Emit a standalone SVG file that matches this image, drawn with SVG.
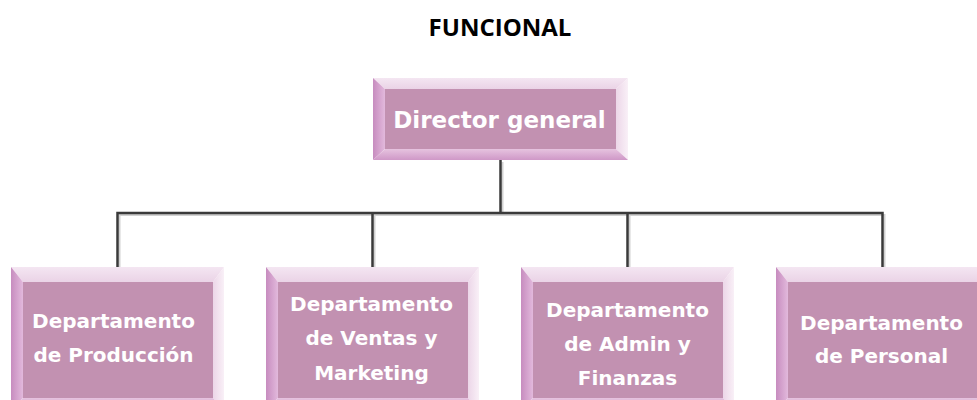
<svg xmlns="http://www.w3.org/2000/svg" xmlns:xlink="http://www.w3.org/1999/xlink" width="977" height="400" viewBox="0 0 977 400">
<style>
.title{font-family:"Open Sans","Liberation Sans",sans-serif;font-weight:bold;font-size:24px;fill:#000;text-anchor:middle}
.lbl{font-family:"DejaVu Sans",Verdana,sans-serif;font-weight:bold;font-size:20px;fill:#ffffff;text-anchor:middle}
.lblTop{font-size:23px}
.face{fill:#c291b1}
.conn{fill:none;stroke:#3a3a3a;stroke-width:2.5}
.shadow{fill:none;stroke:#9a9a9a;stroke-width:2;opacity:0.45}
</style>
<defs>
<linearGradient id="gTop" x1="0" y1="0" x2="0" y2="1"><stop offset="0" stop-color="#f4e6f2"/><stop offset="1" stop-color="#ead3e6"/></linearGradient>
<linearGradient id="gLeft" x1="0" y1="0" x2="1" y2="0"><stop offset="0" stop-color="#c78cbf"/><stop offset="1" stop-color="#e2b9dc"/></linearGradient>
<linearGradient id="gRight" x1="0" y1="0" x2="1" y2="0"><stop offset="0" stop-color="#ecd6e8"/><stop offset="1" stop-color="#f9f0f7"/></linearGradient>
<linearGradient id="gBottom" x1="0" y1="0" x2="0" y2="1"><stop offset="0" stop-color="#e6c3df"/><stop offset="1" stop-color="#cf98c7"/></linearGradient>
<g id="frameTop">
<polygon points="0,0 255,0 243,11 12,11" fill="url(#gTop)"/>
<polygon points="0,0 12,11 12,71 0,82" fill="url(#gLeft)"/>
<polygon points="255,0 255,82 243,71 243,11" fill="url(#gRight)"/>
<polygon points="0,82 12,71 243,71 255,82" fill="url(#gBottom)"/>
<rect class="face" x="12" y="11" width="231" height="60"/>
</g>
<g id="frameDept">
<polygon points="0,0 213,0 202,15 12,15" fill="url(#gTop)"/>
<polygon points="0,0 12,15 12,131 0,143" fill="url(#gLeft)"/>
<polygon points="213,0 213,143 202,131 202,15" fill="url(#gRight)"/>
<polygon points="0,143 12,131 202,131 213,143" fill="url(#gBottom)"/>
<rect class="face" x="12" y="15" width="190" height="116"/>
</g>
</defs>
<text class="title" x="500" y="36">FUNCIONAL</text>
<g id="connectors">
<path class="shadow" d="M502.5,162 V215 M119.5,269 V215 H884.5 V269 M374.5,215 V269 M629.5,215 V269"/>
<path class="conn" d="M500.5,160 V213 M117.5,267 V213 H882.5 V267 M372.5,213 V267 M627.5,213 V267"/>
</g>
<g id="director">
<use xlink:href="#frameTop" x="373" y="78"/>
<text class="lbl lblTop" x="499.5" y="128">Director general</text>
</g>
<g id="produccion">
<use xlink:href="#frameDept" x="11" y="267"/>
<text class="lbl" x="113.5" y="328">Departamento</text>
<text class="lbl" x="113.5" y="362">de Producción</text>
</g>
<g id="ventas">
<use xlink:href="#frameDept" x="266" y="267"/>
<text class="lbl" x="371.5" y="311">Departamento</text>
<text class="lbl" x="371.5" y="345">de Ventas y</text>
<text class="lbl" x="371.5" y="380">Marketing</text>
</g>
<g id="admin">
<use xlink:href="#frameDept" x="521" y="267"/>
<text class="lbl" x="627.5" y="317">Departamento</text>
<text class="lbl" x="627.5" y="351">de Admin y</text>
<text class="lbl" x="627.5" y="385">Finanzas</text>
</g>
<g id="personal">
<use xlink:href="#frameDept" x="776" y="267"/>
<text class="lbl" x="881.5" y="330">Departamento</text>
<text class="lbl" x="881.5" y="363">de Personal</text>
</g>
</svg>
